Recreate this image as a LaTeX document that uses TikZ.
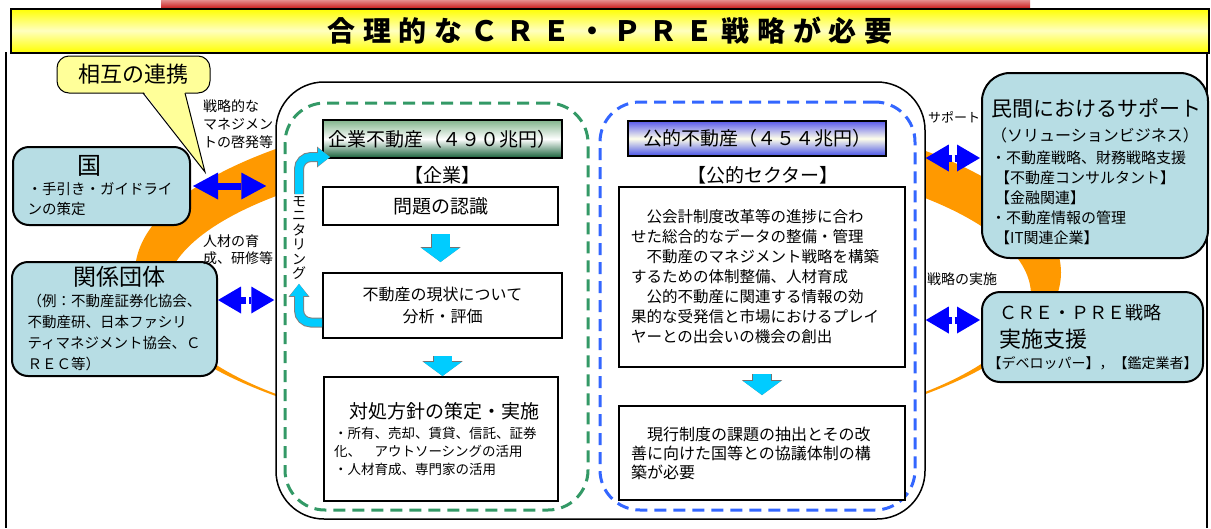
\documentclass[tikz,border=0pt]{standalone}
\usepackage{fontspec}
\setmainfont{Noto Sans CJK JP}
\usetikzlibrary{arrows.meta,calc}

\definecolor{boxblue}{RGB}{183,221,228}
\definecolor{callyellow}{RGB}{255,255,153}
\definecolor{ringorange}{RGB}{255,153,0}
\definecolor{arrblue}{RGB}{0,0,255}
\definecolor{flowcyan}{RGB}{0,204,255}
\definecolor{kigyogreen}{RGB}{51,153,102}
\definecolor{koutekiblue}{RGB}{51,102,255}
\definecolor{titlered}{RGB}{205,45,45}
\definecolor{kigyotop}{RGB}{130,180,140}
\definecolor{kigyobot}{RGB}{20,95,55}
\definecolor{kotop}{RGB}{90,90,235}
\definecolor{kobot}{RGB}{70,80,230}

\begin{document}
\begin{tikzpicture}[
  x=1pt, y=-1pt,
  bluebox/.style={draw, line width=2pt, fill=boxblue, inner sep=0pt},
  whitebox/.style={draw, line width=2pt, fill=white, inner sep=0pt},
  headbox/.style={draw, line width=2pt, inner sep=0pt, font=\fontsize{19}{21}\selectfont},
  area/.style={line width=3pt, dash pattern=on 12pt off 7pt, rounded corners=40pt, inner sep=0pt},
  dblarr/.style={arrblue, line width=7pt, {Triangle[length=25pt,width=27pt,line width=0pt]}-{Triangle[length=25pt,width=27pt,line width=0pt]}},
  halfarr/.style={arrblue, line width=7pt, -{Triangle[length=23pt,width=27pt,line width=0pt]}},
  blockarr/.style={flowcyan, line width=18pt, -{Triangle[length=14pt,width=38pt,line width=0pt]},
    preaction={draw=black!55, line width=19.5pt, -{Triangle[length=15pt,width=40.5pt,line width=0pt]}}},
  monarr/.style={flowcyan, line width=8pt, rounded corners=12pt, -{Triangle[length=12pt,width=18pt,line width=0pt]},
    preaction={draw=gray, line width=10pt, -{Triangle[length=13pt,width=21pt,line width=0pt]}}},
  note/.style={inner sep=0pt, align=left, font=\fontsize{14}{18}\selectfont},
]
\useasboundingbox (0,0) rectangle (1211,528);
\fill[white] (0,0) rectangle (1211,528);

% title bar
\shade[top color=titlered!55!white, bottom color=titlered] (161,0) rectangle (1030,7);
\draw[line width=1.2pt] (6,52) -- (6,528) (1207,52) -- (1207,528);
\node[draw, line width=2pt, top color=yellow, bottom color=yellow, middle color=yellow!25!white,
  minimum width=1198, minimum height=44, inner sep=0pt,
  font=\fontsize{28}{30}\selectfont\bfseries\addfontfeature{LetterSpace=28}] (title) at (610,30.5) {合理的なＣＲＥ・ＰＲＥ戦略が必要};

% ring behind everything
\fill[ringorange, even odd rule] (598,272.5) ellipse [x radius=463, y radius=172]
  (598,295) ellipse [x radius=433, y radius=148];

% centre
\node[draw, line width=1.5pt, fill=white, rounded corners=48pt, minimum width=649, minimum height=437, inner sep=0pt] (core) at (600.5,300.5) {};
\node[area, draw=kigyogreen, minimum width=303, minimum height=407] (kigyo) at (436.5,306.5) {};
\node[area, draw=koutekiblue, minimum width=315, minimum height=408] (kouteki) at (757.5,306) {};

\node[headbox, top color=kigyotop, bottom color=kigyobot, middle color=white, minimum width=239, minimum height=38] (kigyoh) at (442.5,139) {企業不動産（４９０兆円）};
\node[headbox, top color=kotop, bottom color=kobot, middle color=yellow!8!white, minimum width=258, minimum height=35] (koutekih) at (757,138.5) {公的不動産（４５４兆円）};
\node[inner sep=0pt, font=\fontsize{19}{21}\selectfont] (kigyol) at (442,175) {【企業】};
\node[inner sep=0pt, font=\fontsize{19}{21}\selectfont] (koutekil) at (763,175) {【公的セクター】};

\node[whitebox, minimum width=235, minimum height=38, font=\fontsize{19}{21}\selectfont] (mondai) at (440.5,206) {問題の認識};
\node[whitebox, minimum width=239, minimum height=65, align=center, font=\fontsize{16}{22}\selectfont] (genjo) at (442.5,305.5) {不動産の現状について\\分析・評価};
\node[whitebox, minimum width=234, minimum height=124, text width=214, align=left, font=\fontsize{13.5}{18}\selectfont] (taisho) at (441,439)
  {\hspace*{15pt}{\fontsize{19}{21}\selectfont 対処方針の策定・実施}\\[2pt]・所有、売却、賃貸、信託、証券\\化、　アウトソーシングの活用\\・人材育成、専門家の活用};

\node[whitebox, minimum width=286, minimum height=180, text width=262, align=left, font=\fontsize{15.5}{20}\selectfont] (kaikei) at (762,277)
  {　公会計制度改革等の進捗に合わ\\せた総合的なデータの整備・管理\\　不動産のマネジメント戦略を構築\\するための体制整備、人材育成\\　公的不動産に関連する情報の効\\果的な受発信と市場におけるプレイ\\ヤーとの出会いの機会の創出};
\node[whitebox, minimum width=286, minimum height=94, text width=262, align=left, font=\fontsize{16}{19}\selectfont] (genko) at (762,453)
  {　現行制度の課題の抽出とその改\\善に向けた国等との協議体制の構\\築が必要};

\draw[blockarr, shorten <=8pt, shorten >=10pt] (mondai.south) -- (mondai.south |- genjo.north);
\draw[blockarr, shorten <=17pt] (genjo.south) -- (genjo.south |- taisho.north);
\draw[blockarr, shorten <=6pt, shorten >=10pt] (kaikei.south) -- (kaikei.south |- genko.north);

\node[font=\fontsize{14}{14.5}\selectfont, align=center, inner sep=0pt] (monitor) at (299,238) {モ\\ニ\\タ\\リ\\ン\\グ};
\draw[monarr, shorten <=2pt] (monitor.north) |- ($(kigyoh.south west)+(8,-2)$);
\draw[monarr, shorten >=4pt] ($(genjo.west)+(0,17)$) -| (monitor.south);

% left side
\node[draw, line width=1pt, fill=callyellow, rounded corners=12pt, minimum width=153, minimum height=37, inner sep=0pt,
  font=\fontsize{22}{24}\selectfont] (renkei) at (133.5,74.5) {相互の連携};
\fill[callyellow] (143,91) -- (205,172) -- (185,91) -- cycle;
\draw[line width=1pt] (143,93) -- (205,172) -- (185,93);

\node[bluebox, rounded corners=16pt, minimum width=177, minimum height=78, text width=148, align=left, font=\fontsize{14.5}{20}\selectfont] (kuni) at (101.5,186)
  {\hspace*{50pt}{\fontsize{24}{26}\selectfont 国}\\・手引き・ガイドライ\\ンの策定};
\node[bluebox, rounded corners=16pt, minimum width=205, minimum height=114, text width=174, align=left, font=\fontsize{14.5}{21}\selectfont] (kankei) at (114.5,319)
  {\hspace*{46pt}{\fontsize{23}{25}\selectfont 関係団体}\\（例：不動産証券化協会、\\不動産研、日本ファシリ\\ティマネジメント協会、Ｃ\\ＲＥＣ等）};

\node[note, anchor=north west] (keihatsu) at (203,99) {戦略的な\\マネジメン\\トの啓発等};
\node[note, anchor=north west, font=\fontsize{14}{17}\selectfont] (ikusei) at (203,235) {人材の育\\成、研修等};

\draw[dblarr, shorten <=2pt, shorten >=9pt] (kuni.east) -- (kuni.east -| core.west);
\coordinate (kmid) at (247.5,300);
\draw[halfarr] ([xshift=-1.5pt]kmid) -- (kmid -| kankei.east);
\draw[halfarr, shorten >=1pt] ([xshift=1.5pt]kmid) -- (kmid -| core.west);

% right side
\node[bluebox, rounded corners=28pt, minimum width=226, minimum height=185] (minkan) at (1095,165.5) {};
\node[note, anchor=north west, font=\fontsize{15}{20}\selectfont] (minkan-t) at (991,98)
  {{\fontsize{21}{23}\selectfont 民間におけるサポート}\\[5pt]{\fontsize{16}{18}\selectfont（ソリューションビジネス）}\\[2.5pt]・不動産戦略、財務戦略支援\\\hspace*{4pt}【不動産コンサルタント】\\\hspace*{4pt}【金融関連】\\・不動産情報の管理\\\hspace*{4pt}【IT関連企業】};
\node[bluebox, rounded corners=18pt, minimum width=221, minimum height=90, text width=210, align=left, font=\fontsize{14}{18}\selectfont] (crepre) at (1092.5,337)
  {\hspace*{12pt}{\fontsize{18}{20}\selectfont ＣＲＥ・ＰＲＥ戦略}\\[7pt]\hspace*{12pt}{\fontsize{22}{24}\selectfont 実施支援}\\[3pt]【デベロッパー】，【鑑定業者】};

\node[note, anchor=north west, font=\fontsize{13}{15}\selectfont] (support) at (928,111) {サポート};
\node[note, anchor=north west] (jisshi) at (927,272) {戦略の実施};

\coordinate (smid) at (953,158);
\draw[halfarr] ([xshift=-1.5pt]smid) -- (smid -| core.east);
\draw[halfarr, shorten >=1pt] ([xshift=1.5pt]smid) -- (smid -| minkan.west);
\coordinate (cmid) at (953,320);
\draw[halfarr] ([xshift=-1.5pt]cmid) -- (cmid -| core.east);
\draw[halfarr, shorten >=1pt] ([xshift=1.5pt]cmid) -- (cmid -| crepre.west);
\end{tikzpicture}
\end{document}
